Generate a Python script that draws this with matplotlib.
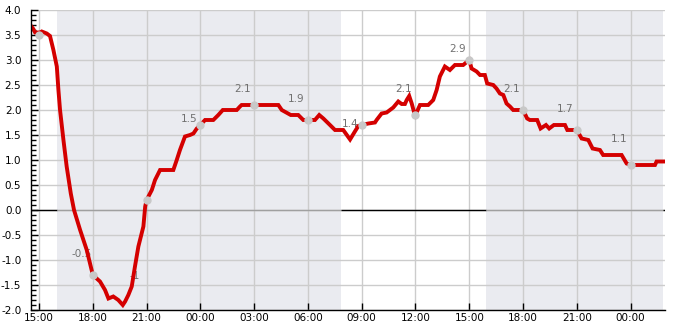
import matplotlib
matplotlib.use("Agg")
import matplotlib.pyplot as plt
from matplotlib.ticker import MultipleLocator, FixedLocator

plt.rcParams['font.family'] = ['DejaVu Sans']
plt.rcParams['axes.unicode_minus'] = False

# hours after 15:00 on day 1
hours = [-0.45, -0.32, -0.22, 0.06, 0.15, 0.43, 0.61, 0.80, 0.99, 1.08, 1.17, 1.36, 1.54,
         1.77, 1.95, 2.29, 2.66, 3.0, 3.40, 3.68, 3.87, 4.14, 4.42, 4.67, 4.80, 4.98,
         5.17, 5.35, 5.54, 5.82, 5.92, 6.0, 6.29, 6.47, 6.75, 7.49, 7.68, 7.86, 8.14,
         8.42, 8.61, 8.80, 9.0, 9.26, 9.72, 10.0, 10.25, 11.03, 11.21, 11.3, 12.0,
         13.35, 13.54, 14.04, 14.46, 14.74, 15.0, 15.39, 15.63, 15.86, 16.23, 16.51,
         16.97, 17.35, 17.62, 17.81, 18.0, 18.37, 18.74, 18.83, 19.11, 19.39, 19.76,
         20.04, 20.23, 20.41, 20.51, 20.65, 20.79, 20.91, 21.0, 21.25, 21.71, 21.99,
         22.18, 22.36, 22.64, 22.92, 23.2, 23.66, 24.0, 24.13, 24.41, 24.6, 24.87, 25.0,
         25.34, 25.52, 25.71, 25.9, 26.08, 26.27, 26.45, 27.0, 27.23, 27.38, 27.79,
         27.98, 28.28, 28.46, 28.72, 29.34, 29.47, 29.84, 30.0, 30.27, 30.64, 30.88,
         31.29, 31.47, 32.5, 32.78, 33.0, 34.36, 34.45, 34.92]
values = [3.68, 3.62, 3.55, 3.55, 3.57, 3.53, 3.48, 3.2, 2.87, 2.4, 2.0, 1.4, 0.87,
          0.33, 0.0, -0.4, -0.8, -1.3, -1.43, -1.6, -1.77, -1.73, -1.8, -1.9, -1.83,
          -1.7, -1.53, -1.13, -0.73, -0.33, 0.07, 0.2, 0.4, 0.6, 0.8, 0.8, 1.0, 1.2,
          1.47, 1.5, 1.53, 1.63, 1.7, 1.8, 1.8, 1.9, 2.0, 2.0, 2.07, 2.1, 2.1,
          2.1, 2.0, 1.9, 1.9, 1.8, 1.8, 1.8, 1.9, 1.83, 1.7, 1.6, 1.6, 1.41, 1.57,
          1.68, 1.7, 1.73, 1.75, 1.8, 1.93, 1.95, 2.05, 2.17, 2.12, 2.12, 2.2, 2.28,
          2.13, 1.97, 1.9, 2.1, 2.1, 2.2, 2.4, 2.67, 2.87, 2.8, 2.9, 2.9, 3.0, 2.83,
          2.77, 2.7, 2.7, 2.53, 2.5, 2.43, 2.33, 2.3, 2.13, 2.07, 2.0, 2.0, 1.83, 1.8,
          1.8, 1.63, 1.7, 1.63, 1.7, 1.7, 1.6, 1.6, 1.6, 1.43, 1.4, 1.23, 1.2, 1.1,
          1.1, 0.93, 0.9, 0.9, 0.97, 0.97]

marker_hours = [0, 3, 6, 9, 12, 15, 18, 21, 24, 27, 30, 33]
marker_values = [3.5, -1.3, 0.2, 1.7, 2.1, 1.8, 1.7, 1.9, 3.0, 2.0, 1.6, 0.9]
label_texts = ["", "-0.5", "-1", "1.5", "2.1", "1.9", "1.4", "2.1", "2.9", "2.1", "1.7", "1.1"]
label_y = [3.8, -0.88, -1.32, 1.82, 2.42, 2.22, 1.72, 2.42, 3.22, 2.42, 2.02, 1.42]

night_spans = [(1.0, 16.85), (24.95, 34.8)]

tick_hours = [0, 3, 6, 9, 12, 15, 18, 21, 24, 27, 30, 33]
tick_labels = ["15:00", "18:00", "21:00", "00:00", "03:00", "06:00", "09:00",
               "12:00", "15:00", "18:00", "21:00", "00:00"]

fig = plt.figure(figsize=(6.85, 3.3), dpi=100)
ax = fig.add_axes([31/685, 20/330, 634/685, 300/330])

xmin, xmax = -0.45, 34.92
ax.set_xlim(xmin, xmax)
ax.set_ylim(-2.0, 4.0)

for a, b in night_spans:
    ax.axvspan(a, b, color='#eaebf0', zorder=0, lw=0)

ax.grid(True, color='#cccccc', lw=1, zorder=1)
ax.set_axisbelow(True)

# zero line: black on white, grey on shaded
edges = [xmin]
for a, b in night_spans:
    edges += [a, b]
edges.append(xmax)
for i in range(len(edges) - 1):
    col = 'black' if i % 2 == 0 else '#a0a0a0'
    ax.hlines(0, edges[i], edges[i + 1], color=col, lw=1, zorder=1.5)

for h, t, y in zip(marker_hours, label_texts, label_y):
    if t:
        ax.text(h - 0.65, y, t, color='#707070', fontsize=7.5, ha='center',
                va='center', zorder=2.5)

ax.plot(hours, values, color='#d40000', lw=2.8, zorder=3, solid_joinstyle='miter')
ax.plot(marker_hours, marker_values, 'o', color='#c8c8c8', ms=5, zorder=4)

ax.xaxis.set_major_locator(FixedLocator(tick_hours))
ax.set_xticklabels(tick_labels)
ax.yaxis.set_major_locator(MultipleLocator(0.5))
ax.yaxis.set_minor_locator(MultipleLocator(0.1))
ax.yaxis.set_major_formatter(matplotlib.ticker.FormatStrFormatter('%.1f'))

for s in ['top', 'right']:
    ax.spines[s].set_visible(False)
for s in ['left', 'bottom']:
    ax.spines[s].set_color('black')
    ax.spines[s].set_linewidth(1)
    ax.spines[s].set_zorder(5)

ax.tick_params(axis='y', which='major', direction='in', length=5, width=1,
               labelsize=7.5, pad=7)
ax.tick_params(axis='y', which='minor', direction='in', length=3.5, width=1)
ax.tick_params(axis='x', which='major', direction='in', length=5, width=1,
               labelsize=7.5, pad=2)

fig.savefig('out.png', dpi=100)
